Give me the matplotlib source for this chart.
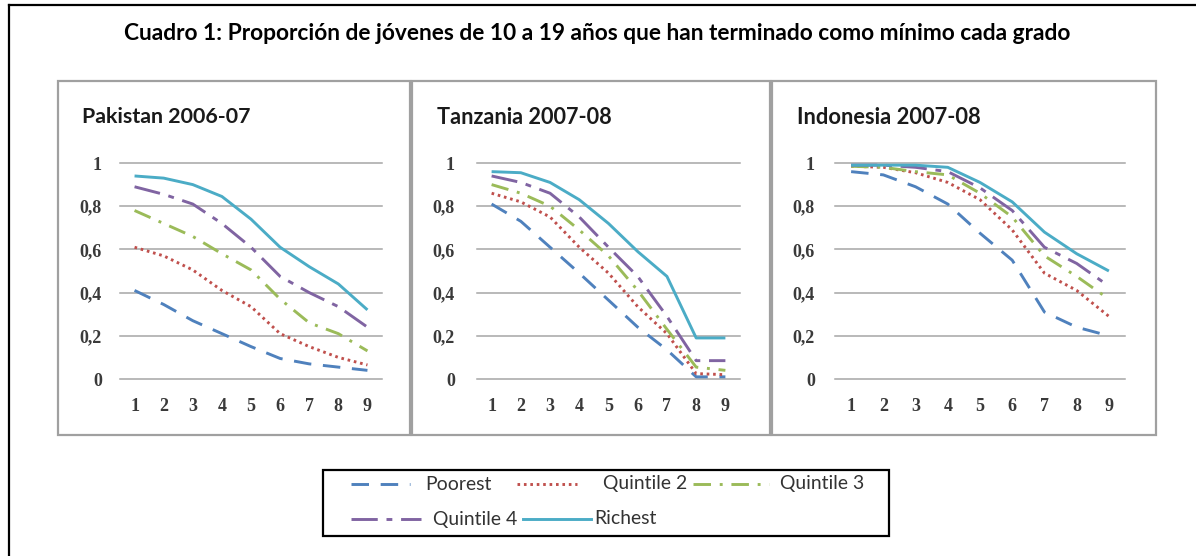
import matplotlib
matplotlib.use("Agg")
import matplotlib.pyplot as plt
from matplotlib.lines import Line2D
from matplotlib.patches import Rectangle

# ---------------- data ----------------
grades = [1, 2, 3, 4, 5, 6, 7, 8, 9]
yticks = [0, 0.2, 0.4, 0.6, 0.8, 1]
ytick_labels = ["0", "0,2", "0,4", "0,6", "0,8", "1"]
series_names = ["Poorest", "Quintile 2", "Quintile 3", "Quintile 4", "Richest"]
panel_titles = ["Pakistan 2006-07", "Tanzania 2007-08", "Indonesia 2007-08"]
title = "Cuadro 1: Proporción de jóvenes de 10 a 19 años que han terminado como mínimo cada grado"

pak_poorest = [0.41, 0.345, 0.27, 0.21, 0.15, 0.095, 0.07, 0.055, 0.04]
pak_q2 = [0.61, 0.57, 0.505, 0.41, 0.335, 0.21, 0.15, 0.10, 0.065]
pak_q3 = [0.78, 0.72, 0.66, 0.58, 0.505, 0.37, 0.26, 0.21, 0.13]
pak_q4 = [0.89, 0.855, 0.81, 0.72, 0.61, 0.475, 0.40, 0.335, 0.24]
pak_richest = [0.94, 0.93, 0.90, 0.845, 0.74, 0.61, 0.52, 0.44, 0.32]

tza_poorest = [0.81, 0.73, 0.61, 0.49, 0.365, 0.24, 0.135, 0.01, 0.01]
tza_q2 = [0.86, 0.82, 0.75, 0.61, 0.49, 0.335, 0.21, 0.025, 0.02]
tza_q3 = [0.90, 0.86, 0.80, 0.69, 0.57, 0.41, 0.23, 0.055, 0.04]
tza_q4 = [0.94, 0.91, 0.86, 0.75, 0.61, 0.475, 0.29, 0.085, 0.085]
tza_richest = [0.96, 0.955, 0.91, 0.83, 0.72, 0.59, 0.475, 0.19, 0.19]

idn_poorest = [0.96, 0.945, 0.89, 0.81, 0.675, 0.55, 0.31, 0.24, 0.20]
idn_q2 = [0.985, 0.98, 0.955, 0.91, 0.83, 0.69, 0.49, 0.41, 0.29]
idn_q3 = [0.985, 0.98, 0.96, 0.945, 0.86, 0.75, 0.57, 0.475, 0.37]
idn_q4 = [0.99, 0.99, 0.98, 0.96, 0.885, 0.78, 0.61, 0.535, 0.43]
idn_richest = [0.99, 0.99, 0.99, 0.98, 0.91, 0.82, 0.68, 0.58, 0.50]

panels = [
    [pak_poorest, pak_q2, pak_q3, pak_q4, pak_richest],
    [tza_poorest, tza_q2, tza_q3, tza_q4, tza_richest],
    [idn_poorest, idn_q2, idn_q3, idn_q4, idn_richest],
]

# ---------------- style ----------------
W, H = 1196, 556
colors = ["#4F81BD", "#C0504D", "#9BBB59", "#8064A2", "#4BACC6"]
dashes = [(6, 4), (0.9, 1.3), (6, 3, 1, 3), (9, 3, 2, 3), None]
LW = 2.1
grid_color = "#a6a6a6"
tick_color = "#3a3a3a"
SANS = ["Lato", "DejaVu Sans"]


def fx(px):
    return px / W


def fy(py):
    return 1 - py / H


fig = plt.figure(figsize=(W / 100, H / 100), dpi=100)
fig.patch.set_facecolor("white")
renderer = fig.canvas.get_renderer()


def fit_text(t, target_px):
    w = t.get_window_extent(renderer=renderer).width
    t.set_fontsize(t.get_fontsize() * target_px / w)


# outer frame (top and left lines)
fig.add_artist(Line2D([fx(9), fx(1196)], [fy(5), fy(5)], color="black", lw=1.6))
fig.add_artist(Line2D([fx(9), fx(9)], [fy(5), fy(556)], color="black", lw=1.6))

t = fig.text(fx(597), fy(33), title, ha="center", va="center",
             fontsize=14, fontweight="bold", family=SANS, color="black")
fit_text(t, 955)

boxes = [(58, 410), (412, 770), (772, 1156)]
plot_x = [(120, 382), (477, 740), (835, 1125)]
title_x = [82, 437, 797]
title_w = [168, 173, 183]
ylab_pad = [18, 22, 20]
BOX_TOP, BOX_BOT = 81, 435
PLOT_TOP, PLOT_BOT = 163, 379

for i in range(3):
    bx0, bx1 = boxes[i]
    fig.add_artist(Rectangle((fx(bx0), fy(BOX_BOT)), fx(bx1 - bx0), (BOX_BOT - BOX_TOP) / H,
                             fill=False, edgecolor="#a0a0a0", lw=1.6))
    px0, px1 = plot_x[i]
    ax = fig.add_axes([fx(px0), fy(PLOT_BOT), fx(px1 - px0), (PLOT_BOT - PLOT_TOP) / H])
    ax.set_xlim(0.5, 9.5)
    ax.set_ylim(0, 1)
    for s in ax.spines.values():
        s.set_visible(False)
    for yv in yticks:
        ax.axhline(yv, color=grid_color, lw=1.1, zorder=0, clip_on=False)
    for j, vals in enumerate(panels[i]):
        ln, = ax.plot(grades, vals, color=colors[j], lw=LW, zorder=2 + j,
                      solid_capstyle="butt", clip_on=False)
        if dashes[j] is not None:
            ln.set_dashes(dashes[j])
            ln.set_dash_capstyle("butt")
    ax.set_xticks(grades)
    ax.set_xticklabels([str(g) for g in grades])
    ax.set_yticks(yticks)
    ax.set_yticklabels(ytick_labels)
    ax.tick_params(axis="both", length=0, colors=tick_color, labelsize=13)
    ax.tick_params(axis="y", pad=ylab_pad[i] * 0.72)
    ax.tick_params(axis="x", pad=14)
    for lab in ax.get_xticklabels() + ax.get_yticklabels():
        lab.set_family(["Liberation Serif", "DejaVu Serif"])
        lab.set_fontweight("bold")
    ax.patch.set_alpha(0)
    pt = fig.text(fx(title_x[i]), fy(117), panel_titles[i], ha="left", va="center",
                  fontsize=12, fontweight="bold", family=SANS, color="#1a1a1a")
    fit_text(pt, title_w[i])

# legend box
fig.add_artist(Rectangle((fx(323), fy(536)), fx(889 - 323), (536 - 470) / H,
                         fill=False, edgecolor="black", lw=1.6))
# (series index, handle x0, handle x1, text x, row y)
leg_items = [
    (1, 517, 577, 603, 484),
    (0, 351, 410, 425, 484),
    (2, 693, 769, 780, 484),
    (3, 351, 421, 433, 519),
    (4, 523, 591, 594, 519),
]
leg_size = None
for j, hx0, hx1, tx, yy in leg_items:
    ln = Line2D([fx(hx0), fx(hx1)], [fy(yy), fy(yy)], color=colors[j], lw=LW)
    if dashes[j] is not None:
        ln.set_dashes(dashes[j])
    fig.add_artist(ln)
    lt = fig.text(fx(tx), fy(yy), series_names[j], ha="left", va="center",
                  fontsize=11, family=SANS, color="#333333")
    if leg_size is None:
        fit_text(lt, 84)
        leg_size = lt.get_fontsize()
    else:
        lt.set_fontsize(leg_size)

fig.savefig("out.png", dpi=100, facecolor="white")
